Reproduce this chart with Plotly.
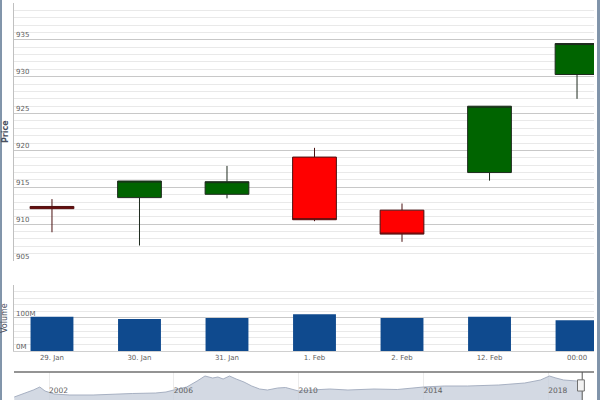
import plotly.graph_objects as go

# ---- data ----
categories = ["29. Jan", "30. Jan", "31. Jan", "1. Feb", "2. Feb", "12. Feb", "00:00"]
open_ = [912.4, 913.6, 914.05, 919.1, 911.9, 917.0, 930.3]
high = [913.4, 915.85, 917.9, 920.35, 912.8, 926.0, 934.5]
low = [908.9, 907.1, 913.5, 910.4, 907.6, 915.9, 927.0]
close = [912.1, 915.85, 915.76, 910.6, 908.65, 926.0, 934.5]
volume = [104e6, 97e6, 100e6, 111e6, 100e6, 104e6, 93e6]

price_ticks = [905, 910, 915, 920, 925, 930, 935, 940]
price_labels = ["905", "910", "915", "920", "925", "930", "935", ""]
vol_ticks = [0, 100e6, 200e6]
vol_labels = ["0M", "100M", ""]

nav_dates = ["2000-11-20", "2001-03-01", "2001-07-01", "2001-09-15", "2001-11-15",
             "2002-03-01", "2002-09-01", "2003-06-01", "2004-01-01", "2004-09-01",
             "2005-06-01", "2005-10-01", "2006-01-01", "2006-06-01", "2006-10-01",
             "2007-01-01", "2007-04-01", "2007-06-01", "2007-08-01", "2007-10-15",
             "2008-01-01", "2008-04-01", "2008-07-01", "2008-10-01", "2009-01-01",
             "2009-05-01", "2009-08-01", "2010-01-01", "2010-06-01", "2011-01-01",
             "2011-08-01", "2012-06-01", "2013-03-01", "2014-01-01", "2014-09-01",
             "2015-06-01", "2016-06-01", "2017-04-01", "2017-10-01", "2018-01-15",
             "2018-04-01", "2018-07-01", "2018-12-01", "2019-02-03"]
nav_values = [3, 6, 10, 13, 9, 6, 5, 5, 6, 6.5, 7, 8, 10, 13, 19, 24, 22, 23, 21, 24,
              21, 18, 14, 11, 10, 12, 12.5, 9, 10, 11, 10, 11, 10.5, 13, 14, 14, 15,
              17, 20, 24, 22, 20, 19, 19]
nav_years = ["2002-01-01", "2006-01-01", "2010-01-01", "2014-01-01", "2018-01-01"]
nav_year_labels = ["2002", "2006", "2010", "2014", "2018"]

FONT = "DejaVu Sans"
TXT = "#606060"

fig = go.Figure()

fig.add_trace(go.Candlestick(
    x=categories, open=open_, high=high, low=low, close=close,
    increasing=dict(fillcolor="#006400", line=dict(color="#1e2a1e", width=1)),
    decreasing=dict(fillcolor="#ff0000", line=dict(color="#4a1010", width=1)),
    whiskerwidth=0, xaxis="x", yaxis="y", showlegend=False,
))

fig.add_trace(go.Bar(
    x=categories, y=volume, width=0.49, marker=dict(color="#0f4a8e", line=dict(width=0)),
    xaxis="x2", yaxis="y2", showlegend=False,
))

fig.add_trace(go.Scatter(
    x=nav_dates, y=nav_values, mode="lines", fill="tozeroy",
    line=dict(color="rgba(160,170,188,0.9)", width=1),
    fillcolor="rgba(200,207,220,0.8)",
    xaxis="x3", yaxis="y3", showlegend=False, hoverinfo="skip",
))

grid_major = "#c8c8c8"
grid_minor = "#e9e9e9"

fig.update_layout(
    width=600, height=400,
    margin=dict(l=14, r=6, t=3, b=0),
    paper_bgcolor="white", plot_bgcolor="white",
    font=dict(family=FONT, size=7, color=TXT),
    boxgap=0.5, boxgroupgap=0,
    xaxis=dict(type="category", domain=[0, 1], anchor="y", range=[-0.434, 6.194],
               showticklabels=False, showgrid=False, zeroline=False,
               rangeslider=dict(visible=False), fixedrange=True),
    yaxis=dict(domain=[0.3501, 1], anchor="x", range=[905, 940],
               tickvals=price_ticks, ticktext=price_labels,
               ticklabelposition="inside top", ticks="",
               gridcolor=grid_major, gridwidth=1, zeroline=False,
               showline=True, linecolor="#c0c0c0", linewidth=1,
               minor=dict(dtick=1, showgrid=True, gridcolor=grid_minor, gridwidth=1),
               tickfont=dict(size=7, color=TXT)),
    xaxis2=dict(type="category", domain=[0, 1], anchor="y2", matches="x",
                showgrid=False, zeroline=False, ticks="",
                tickfont=dict(size=7, color=TXT),
                showline=True, linecolor="#d0d0d0"),
    yaxis2=dict(domain=[0.1234, 0.2897], anchor="x2", range=[0, 200e6],
                tickvals=vol_ticks, ticktext=vol_labels,
                ticklabelposition="inside top", ticks="",
                gridcolor=grid_major, zeroline=False,
                showline=True, linecolor="#c0c0c0",
                minor=dict(dtick=20e6, showgrid=True, gridcolor=grid_minor),
                tickfont=dict(size=7, color=TXT)),
    xaxis3=dict(type="date", domain=[0, 1], anchor="y3",
                range=["2000-11-17", "2019-06-21"],
                tickvals=nav_years, ticktext=nav_year_labels,
                ticklabelposition="inside right", ticks="",
                showgrid=True, gridcolor="#ececec", zeroline=False,
                tickfont=dict(size=7.5, color=TXT)),
    yaxis3=dict(domain=[0, 0.0705], anchor="x3", range=[0, 28],
                showticklabels=False, showgrid=False, zeroline=False),
    annotations=[
        dict(text="<b>Price</b>", xref="paper", yref="y domain", x=-0.0155, y=0.5,
             textangle=-90, showarrow=False, font=dict(size=8, color="#4a5060"),
             xanchor="center", yanchor="middle"),
        dict(text="Volume", xref="paper", yref="y2 domain", x=-0.0155, y=0.5,
             textangle=-90, showarrow=False, font=dict(size=8, color="#4a5060"),
             xanchor="center", yanchor="middle"),
    ],
    shapes=[
        # outer frame bars
        dict(type="rect", xref="paper", yref="paper", x0=-0.0241, x1=-0.0207, y0=-0.01, y1=1.01,
             fillcolor="#8094aa", line=dict(width=0), layer="above"),
        dict(type="rect", xref="paper", yref="paper", x0=1.0052, x1=1.011, y0=-0.01, y1=1.01,
             fillcolor="#8094aa", line=dict(width=0), layer="above"),
        # navigator top outline
        dict(type="line", xref="paper", yref="y3 domain", x0=0, x1=1, y0=1, y1=1,
             line=dict(color="#707070", width=1.5)),
        # navigator handle
        dict(type="line", xref="x3", yref="y3 domain", x0=nav_dates[-1], x1=nav_dates[-1],
             y0=0, y1=1, line=dict(color="#555555", width=1)),
        dict(type="rect", xref="x3", yref="y3 domain", x0="2018-12-10", x1="2019-02-28",
             y0=0.32, y1=0.72, fillcolor="#f2f2f2", line=dict(color="#707070", width=1),
             layer="above"),
    ],
)

fig.write_html("out.html")
